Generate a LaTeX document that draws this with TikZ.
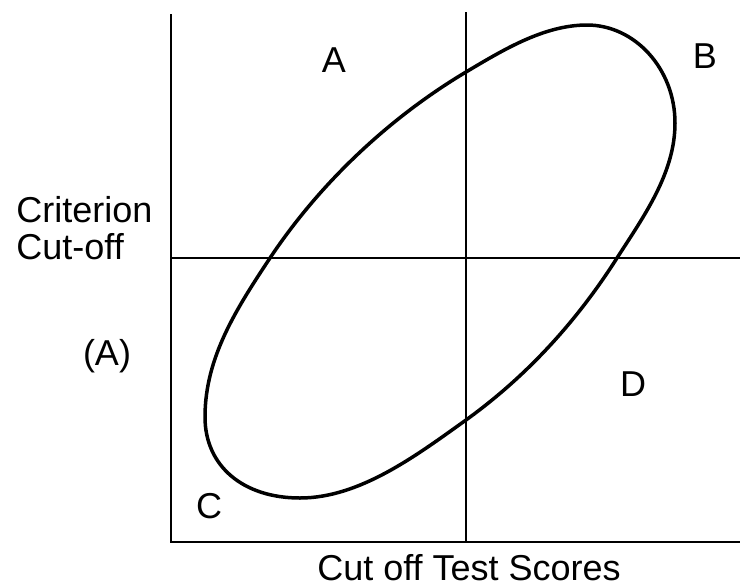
\documentclass[tikz,border=0pt]{standalone}
\usepackage{fontspec}
\setmainfont{Liberation Sans}
\usetikzlibrary{positioning}

\begin{document}
\begin{tikzpicture}[
  x=0.5pt, y=-0.5pt,
  lbl/.style={font=\fontsize{18}{18.5}\selectfont, inner sep=0pt, anchor=base},
  axis/.style={line width=1.2pt},
  cutline/.style={line width=0.85pt},
  blob/.style={line width=1.75pt, line join=round},
]
\useasboundingbox (0,0) rectangle (740,585);

% axes and cut-off lines
\coordinate (origin) at (171,542);
\draw[axis] (171,14) -- (origin) -- (740,542);
\draw[cutline] (466,12) -- (466,542);
\draw[cutline] (171,258) -- (740,258);

% scatter boundary
\draw[blob] (587,25)
  .. controls (635,25) and (675,69) .. (675,123)
  .. controls (675,173) and (644,216) .. (617,258)
  .. controls (577,321) and (527,376) .. (466,420)
  .. controls (417,455) and (360,498) .. (300,498)
  .. controls (243,498) and (205,466) .. (205,417)
  .. controls (205,357) and (237,308) .. (270,258)
  .. controls (320,183) and (389,118) .. (466,72)
  .. controls (503,50) and (544,25) .. cycle;

% quadrant labels
\node[lbl] (qa) at (334,72) {A};
\node[lbl] (qb) at (705,68) {B};
\node[lbl] (qc) at (209,518) {C};
\node[lbl] (qd) at (633,396) {D};

% axis labels
\node[lbl, anchor=base west] (crit) at (16,222) {Criterion};
\node[lbl, anchor=base west] (cut) at (16,259) {Cut-off};
\node[lbl] (paren) at (107,365) {(A)};
\node[lbl] (xlab) at (469,580) {Cut off Test Scores};

\end{tikzpicture}
\end{document}
